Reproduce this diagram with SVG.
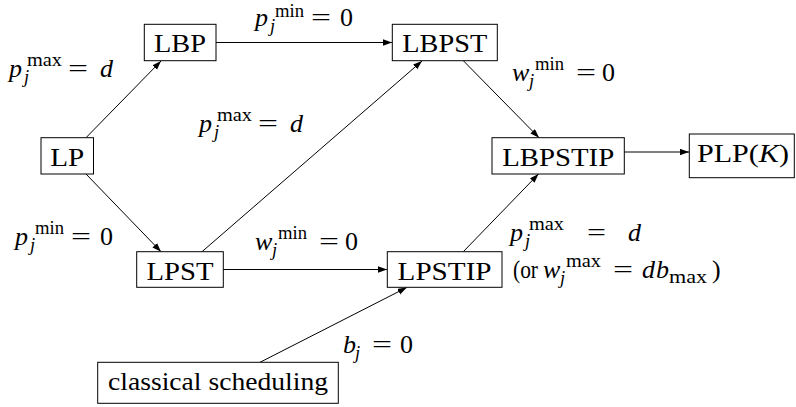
<svg xmlns="http://www.w3.org/2000/svg" width="796" height="407" viewBox="0 0 796 407">
<defs>
<marker id="ah" markerUnits="userSpaceOnUse" markerWidth="10" markerHeight="8" refX="9" refY="3.2" orient="auto">
<path d="M0,0 L9,3.2 L0,6.4 Z" fill="#000"/>
</marker>
<style>
.box{fill:#fff;stroke:#000;stroke-width:1}
text{font-family:"Liberation Serif","Times New Roman",serif;font-size:26px;fill:#000}
.c{text-anchor:middle}
.i{font-style:italic}
.s{font-size:18.5px}
.e{stroke:#000;stroke-width:1;fill:none;marker-end:url(#ah)}
</style>
</defs>
<rect width="796" height="407" fill="#fff"/>
<g id="edges">
<line class="e" x1="86" y1="137.7" x2="161" y2="61"/>
<line class="e" x1="86" y1="174" x2="161" y2="251.7"/>
<line class="e" x1="216" y1="42.5" x2="392" y2="42.5"/>
<line class="e" x1="202" y1="251.7" x2="422" y2="61"/>
<line class="e" x1="463.3" y1="60.7" x2="539" y2="137.7"/>
<line class="e" x1="463.3" y1="251.7" x2="538.5" y2="174"/>
<line class="e" x1="624" y1="152" x2="689" y2="152"/>
<line class="e" x1="223" y1="269.5" x2="387" y2="269.5"/>
<line class="e" x1="260" y1="362.3" x2="406.7" y2="287.5"/>
</g>
<g id="LP"><rect class="box" x="41" y="137.7" width="52.5" height="36.3"/><text class="c" x="67.2" y="165.5" textLength="34" lengthAdjust="spacingAndGlyphs">LP</text></g>
<g id="LBP"><rect class="box" x="144.3" y="24.3" width="71.7" height="36.4"/><text class="c" x="180" y="52" textLength="52" lengthAdjust="spacingAndGlyphs">LBP</text></g>
<g id="LBPST"><rect class="box" x="392.3" y="24.3" width="105" height="36.4"/><text class="c" x="444.8" y="52" textLength="85" lengthAdjust="spacingAndGlyphs">LBPST</text></g>
<g id="LBPSTIP"><rect class="box" x="492" y="137.7" width="132.3" height="36.3"/><text class="c" x="558.2" y="165.5" textLength="112" lengthAdjust="spacingAndGlyphs">LBPSTIP</text></g>
<g id="PLPK"><rect class="box" x="689.3" y="134" width="105" height="43.7"/><text x="697" y="162" textLength="92" lengthAdjust="spacingAndGlyphs">PLP(<tspan class="i">K</tspan>)</text></g>
<g id="LPST"><rect class="box" x="136.7" y="251.7" width="86.6" height="35.6"/><text class="c" x="180" y="279.5" textLength="67" lengthAdjust="spacingAndGlyphs">LPST</text></g>
<g id="LPSTIP"><rect class="box" x="387.3" y="251.7" width="114.7" height="35.6"/><text class="c" x="444.6" y="279.5" textLength="94" lengthAdjust="spacingAndGlyphs">LPSTIP</text></g>
<g id="classical"><rect class="box" x="97.7" y="362.3" width="240.6" height="41"/><text class="c" x="218" y="389.5" textLength="220" lengthAdjust="spacingAndGlyphs">classical scheduling</text></g>
<g id="labels">
<g id="l1">
<text class="i" x="9" y="77">p</text><text class="s" x="27" y="66" textLength="35" lengthAdjust="spacingAndGlyphs">max</text><text class="s i" x="24" y="83">j</text>
<text x="68" y="77" textLength="20" lengthAdjust="spacingAndGlyphs">=</text><text class="i" x="100" y="77">d</text>
</g>
<g id="l2">
<text class="i" x="255" y="26">p</text><text class="s" x="275" y="17" textLength="29" lengthAdjust="spacingAndGlyphs">min</text><text class="s i" x="270" y="32">j</text>
<text x="311" y="26" textLength="20" lengthAdjust="spacingAndGlyphs">=</text><text x="340" y="26">0</text>
</g>
<g id="l3">
<text class="i" x="199" y="132">p</text><text class="s" x="217" y="121" textLength="35" lengthAdjust="spacingAndGlyphs">max</text><text class="s i" x="214" y="138">j</text>
<text x="258" y="132" textLength="20" lengthAdjust="spacingAndGlyphs">=</text><text class="i" x="290" y="132">d</text>
</g>
<g id="l4">
<text class="i" x="512" y="81">w</text><text class="s" x="535" y="70" textLength="29" lengthAdjust="spacingAndGlyphs">min</text><text class="s i" x="529" y="87">j</text>
<text x="576" y="81" textLength="20" lengthAdjust="spacingAndGlyphs">=</text><text x="602" y="81">0</text>
</g>
<g id="l5">
<text class="i" x="15" y="245">p</text><text class="s" x="35" y="234" textLength="29" lengthAdjust="spacingAndGlyphs">min</text><text class="s i" x="30" y="251">j</text>
<text x="71" y="245" textLength="20" lengthAdjust="spacingAndGlyphs">=</text><text x="100" y="245">0</text>
</g>
<g id="l6">
<text class="i" x="255" y="250">w</text><text class="s" x="278" y="239" textLength="29" lengthAdjust="spacingAndGlyphs">min</text><text class="s i" x="272" y="256">j</text>
<text x="319" y="250" textLength="20" lengthAdjust="spacingAndGlyphs">=</text><text x="345" y="250">0</text>
</g>
<g id="l7">
<text class="i" x="510" y="241">p</text><text class="s" x="529" y="230" textLength="35" lengthAdjust="spacingAndGlyphs">max</text><text class="s i" x="525" y="247">j</text>
<text x="587" y="241" textLength="19" lengthAdjust="spacingAndGlyphs">=</text><text class="i" x="628" y="241">d</text>
</g>
<g id="l8">
<text x="513" y="278" textLength="25" lengthAdjust="spacingAndGlyphs">(or</text><text class="i" x="543" y="278">w</text><text class="s" x="566" y="267" textLength="35" lengthAdjust="spacingAndGlyphs">max</text><text class="s i" x="560" y="284">j</text>
<text x="613" y="278" textLength="20" lengthAdjust="spacingAndGlyphs">=</text><text class="i" x="642" y="278">d</text><text class="i" x="656" y="278">b</text><text class="s" x="669" y="283" textLength="38" lengthAdjust="spacingAndGlyphs">max</text><text x="712" y="278">)</text>
</g>
<g id="l9">
<text class="i" x="343" y="353">b</text><text class="s i" x="355" y="359">j</text>
<text x="372" y="353" textLength="20" lengthAdjust="spacingAndGlyphs">=</text><text x="400" y="353">0</text>
</g>
</g>
</svg>
